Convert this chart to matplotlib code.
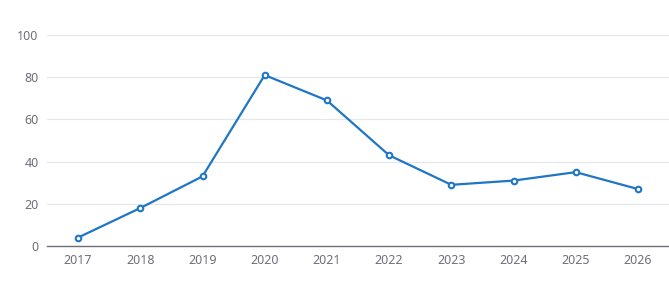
import matplotlib
matplotlib.use("Agg")
from matplotlib import pyplot as plt

years = ["2017", "2018", "2019", "2020", "2021", "2022", "2023", "2024", "2025", "2026"]
values = [4, 18, 33, 81, 69, 43, 29, 31, 35, 27]
yticks = [0, 20, 40, 60, 80, 100]

plt.rcParams['font.family'] = ['Noto Sans', 'DejaVu Sans']

fig = plt.figure(figsize=(6.69, 2.82), dpi=100)
ax = fig.add_axes([47/669, 36/282, 622/669, 211/282])

x = list(range(len(years)))
ax.plot(x, values, color="#1f76c6", lw=1.6, marker="o", ms=4,
        mfc="white", mec="#1f76c6", mew=1.5, zorder=3)

ax.set_xlim(-0.5, len(years) - 0.5)
ax.set_ylim(0, 100)
ax.set_xticks(x)
ax.set_xticklabels(years)
ax.set_yticks(yticks)

ax.grid(axis="y", color="#e3e6ec", lw=0.8)
ax.set_axisbelow(True)
for s in ["top", "right", "left"]:
    ax.spines[s].set_visible(False)
ax.spines["bottom"].set_color("#6e7079")
ax.spines["bottom"].set_linewidth(1)
ax.tick_params(length=0, labelsize=9, colors="#6e7079")
ax.tick_params(axis="y", pad=6)
ax.tick_params(axis="x", pad=6)

fig.savefig("out.png", dpi=100)
